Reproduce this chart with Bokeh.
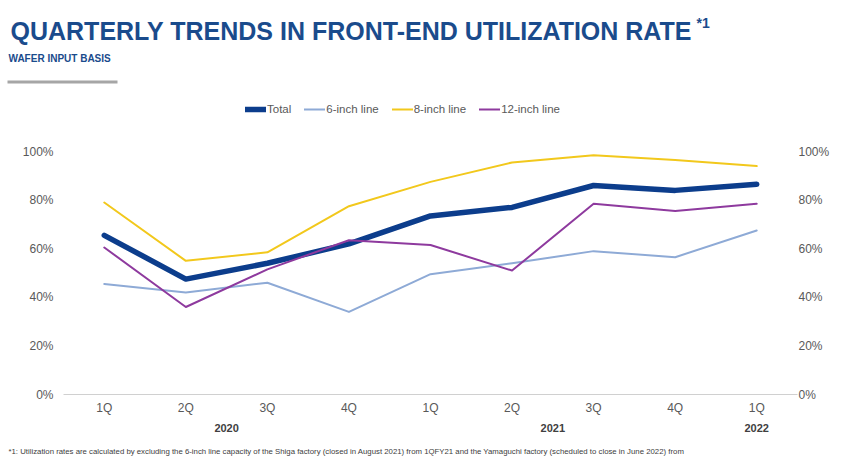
from bokeh.plotting import figure
from bokeh.layouts import column
from bokeh.models import (FactorRange, Range1d, LinearAxis, PrintfTickFormatter, FixedTicker,
                          Legend, LegendItem, Label, BoxAnnotation)
from bokeh.embed import file_html
from bokeh.resources import INLINE

years = ["2020", "2020", "2020", "2020", "2021", "2021", "2021", "2021", "2022"]
quarters = ["1Q", "2Q", "3Q", "4Q", "1Q", "2Q", "3Q", "4Q", "1Q"]
total = [65.5, 47.5, 54, 62, 73.5, 77, 86, 84, 86.5]
six_inch = [45.5, 42, 46, 34, 49.5, 54, 59, 56.5, 67.5]
eight_inch = [79, 55, 58.5, 77.5, 87.5, 95.5, 98.5, 96.5, 94]
twelve_inch = [60.5, 36, 51.5, 63.5, 61.5, 51, 78.5, 75.5, 78.5]
y_ticks = [0, 20, 40, 60, 80, 100]

series_names = ["Total", "6-inch line", "8-inch line", "12-inch line"]
colors = ["#0c3d8c", "#8eaad6", "#f2c81c", "#8e3a9e"]
widths = [5.5, 2, 2, 2]

title_text = "QUARTERLY TRENDS IN FRONT-END UTILIZATION RATE"
title_mark = "*1"
subtitle_text = "WAFER INPUT BASIS"
footnote_text = ("*1: Utilization rates are calculated by excluding the 6-inch line capacity of the Shiga factory "
                 "(closed in August 2021) from 1QFY21 and the Yamaguchi factory (scheduled to close in June 2022) from")

factors = list(zip(years, quarters))
FONT = "Liberation Sans"
GRAY = "#595959"
BLUE = "#1a4b8c"
W = 850
HEAD_H, MAIN_H, FOOT_H = 95, 345, 22
# main frame: from top of main figure (y=95 on page) to the 0% line (y=394); 100% sits at y=151
FRAME_H = 394 - HEAD_H
PCT_H = 394 - 151
Y_END = 100 * FRAME_H / PCT_H


def unalign(f):
    try:
        f.frame_align = False
    except Exception:
        pass


def no_title(f):
    try:
        f.title = None
    except Exception:
        f.title.text_font_size = "0px"
        f.title.standoff = 0
        f.title.visible = False


def blank(h):
    f = figure(width=W, height=h, output_backend="svg", toolbar_location=None,
               x_axis_type=None, y_axis_type=None,
               x_range=Range1d(0, W), y_range=Range1d(h, 0),
               min_border=0, outline_line_color=None)
    unalign(f)
    no_title(f)
    return f


# ---------- header: title, subtitle, rule ----------
head = blank(HEAD_H)
head.add_layout(Label(x=10, y=30, text=title_text, text_font=FONT, text_font_size="25px",
                      text_font_style="bold", text_color=BLUE, text_baseline="middle"))
head.add_layout(Label(x=696, y=22, text=title_mark, text_font=FONT, text_font_size="14px",
                      text_font_style="bold", text_color=BLUE, text_baseline="middle"))
head.add_layout(Label(x=8, y=58, text=subtitle_text, text_font=FONT, text_font_size="10px",
                      text_font_style="bold", text_color=BLUE, text_baseline="middle"))
head.add_layout(BoxAnnotation(left=7, right=117, top=80, bottom=83,
                              fill_color="#a6a6a6", fill_alpha=1, line_color=None))

# ---------- main chart ----------
p = figure(width=W, height=MAIN_H, output_backend="svg", toolbar_location=None,
           x_range=FactorRange(*factors, group_padding=0, factor_padding=0, range_padding=0),
           y_range=Range1d(0, Y_END),
           min_border_left=63, min_border_right=53, min_border_top=0, min_border_bottom=46)
unalign(p)
no_title(p)
p.outline_line_color = None
p.xgrid.grid_line_color = None
p.ygrid.grid_line_color = None

renderers = []
for vals, c, w in zip([total, six_inch, eight_inch, twelve_inch], colors, widths):
    renderers.append(p.line(x=factors, y=vals, line_color=c, line_width=w,
                            line_join="round", line_cap="round"))

legend = Legend(items=[LegendItem(label=n, renderers=[r]) for n, r in zip(series_names, renderers)],
                orientation="horizontal", location=(182, FRAME_H - (102 - HEAD_H) - 14),
                padding=0, margin=0, spacing=13,
                border_line_color=None, background_fill_alpha=0,
                glyph_width=21, glyph_height=14, label_height=14, label_standoff=1,
                label_text_font=FONT, label_text_font_size="11.5px", label_text_color=GRAY)
p.add_layout(legend, "center")

xa = p.xaxis[0]
xa.axis_line_color = "#d0d0d0"
xa.axis_line_width = 1
xa.major_tick_line_color = None
xa.major_tick_out = 0
xa.minor_tick_line_color = None
xa.major_label_text_font = FONT
xa.major_label_text_font_size = "12px"
xa.major_label_text_color = GRAY
xa.major_label_standoff = 6
xa.group_text_font = FONT
xa.group_text_font_size = "11px"
xa.group_text_font_style = "bold"
xa.group_text_color = "#404040"
xa.separator_line_alpha = 0

ya = p.yaxis[0]
ra = LinearAxis()
p.add_layout(ra, "right")
for ax, so in ((ya, 10), (ra, 1)):
    ax.ticker = FixedTicker(ticks=y_ticks)
    ax.formatter = PrintfTickFormatter(format="%d%%")
    ax.axis_line_color = None
    ax.major_tick_line_color = None
    ax.major_tick_out = 0
    ax.minor_tick_line_color = None
    ax.major_label_text_font = FONT
    ax.major_label_text_font_size = "12px"
    ax.major_label_text_color = GRAY
    ax.major_label_standoff = so

# ---------- footer ----------
foot = blank(FOOT_H)
foot.add_layout(Label(x=8, y=11, text=footnote_text, text_font=FONT, text_font_size="7.8px",
                      text_color="#404040", text_baseline="middle"))

layout = column(head, p, foot, spacing=0)
open("out.html", "w").write(file_html(layout, INLINE))
